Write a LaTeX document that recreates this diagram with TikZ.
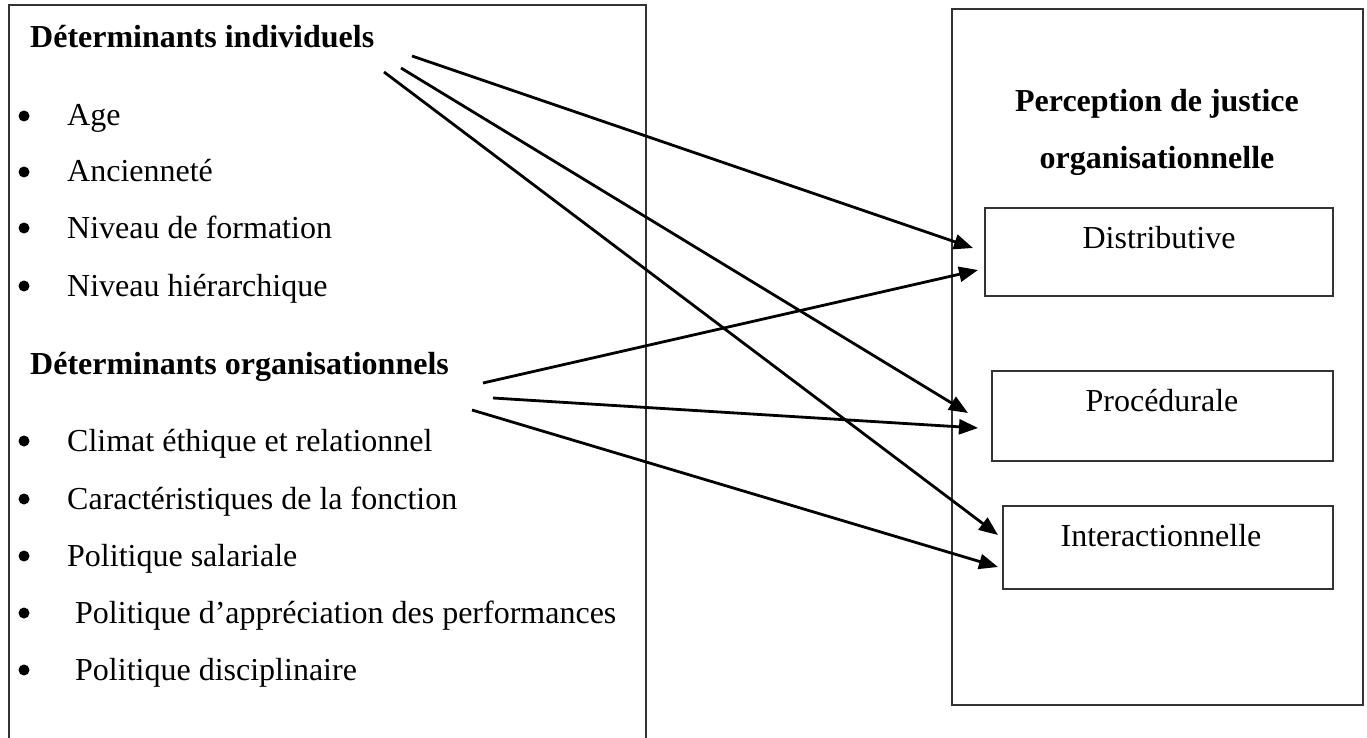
\documentclass[tikz,border=0pt]{standalone}
\usepackage{fontspec}
\setmainfont{Liberation Serif}
\usetikzlibrary{arrows.meta}
\tikzset{
  frame/.style={draw=black!80, line width=1.3pt},
  txt/.style={inner sep=0pt, anchor=base west, font=\fontsize{32}{38}\selectfont},
  head/.style={txt, font=\fontsize{32}{38}\selectfont\bfseries},
  ctxt/.style={inner sep=0pt, anchor=base, font=\fontsize{32}{38}\selectfont},
  chead/.style={ctxt, font=\fontsize{32}{38}\selectfont\bfseries},
  link/.style={line width=2.8pt, -{Triangle[length=19pt,width=15pt]}},
  dot/.style={circle, fill=black, inner sep=0pt, minimum size=11pt}
}
\begin{document}
\begin{tikzpicture}[x=1pt,y=-1pt]
\useasboundingbox (0,0) rectangle (1367,738);
% left frame (open at the bottom)
\draw[frame] (9,745) -- (9,5) -- (646,5) -- (646,745);
% right frame
\draw[frame] (952,9) rectangle (1363,705);
% sub boxes
\draw[frame] (985,208) rectangle (1333,296);
\draw[frame] (992,371) rectangle (1333,461);
\draw[frame] (1003,506) rectangle (1333,589);
\node[ctxt] (dist) at (1159,248) {Distributive};
\node[ctxt] (proc) at (1162,411) {Procédurale};
\node[ctxt] (inter) at (1161,546) {Interactionnelle};
\node[chead] (perc1) at (1157,112) {Perception de justice};
\node[chead] (perc2) at (1157,168) {organisationnelle};
% left texts
\node[head] (hind) at (30,48) {Déterminants individuels};
\node[head] (horg) at (30,374) {Déterminants organisationnels};
\node[txt] (i1) at (67,126) {Age};
\node[txt] (i2) at (67,182) {Ancienneté};
\node[txt] (i3) at (67,238) {Niveau de formation};
\node[txt] (i4) at (67,296) {Niveau hiérarchique};
\node[txt] (o1) at (67,451) {Climat éthique et relationnel};
\node[txt] (o2) at (67,509) {Caractéristiques de la fonction};
\node[txt] (o3) at (67,566) {Politique salariale};
\node[txt] (o4) at (67,623) {\ Politique d’appréciation des performances};
\node[txt] (o5) at (67,680) {\ Politique disciplinaire};
\foreach \n/\y in {b1/126,b2/182,b3/238,b4/296,b5/451,b6/509,b7/566,b8/623,b9/680}
  \node[dot] (\n) at (24,\y-10) {};
% arrow ends
\coordinate (s1) at (412,56);
\coordinate (s2) at (401,68);
\coordinate (s3) at (384,72);
\coordinate (s4) at (483,383);
\coordinate (s5) at (493,398);
\coordinate (s6) at (472,410);
\coordinate (t1) at (973,248);
\coordinate (t2) at (968,413);
\coordinate (t3) at (998,535);
\coordinate (t4) at (978,270);
\coordinate (t5) at (978,428);
\coordinate (t6) at (998,567);
\draw[link] (s1) -- (t1);
\draw[link] (s2) -- (t2);
\draw[link] (s3) -- (t3);
\draw[link] (s4) -- (t4);
\draw[link] (s5) -- (t5);
\draw[link] (s6) -- (t6);
\end{tikzpicture}
\end{document}
